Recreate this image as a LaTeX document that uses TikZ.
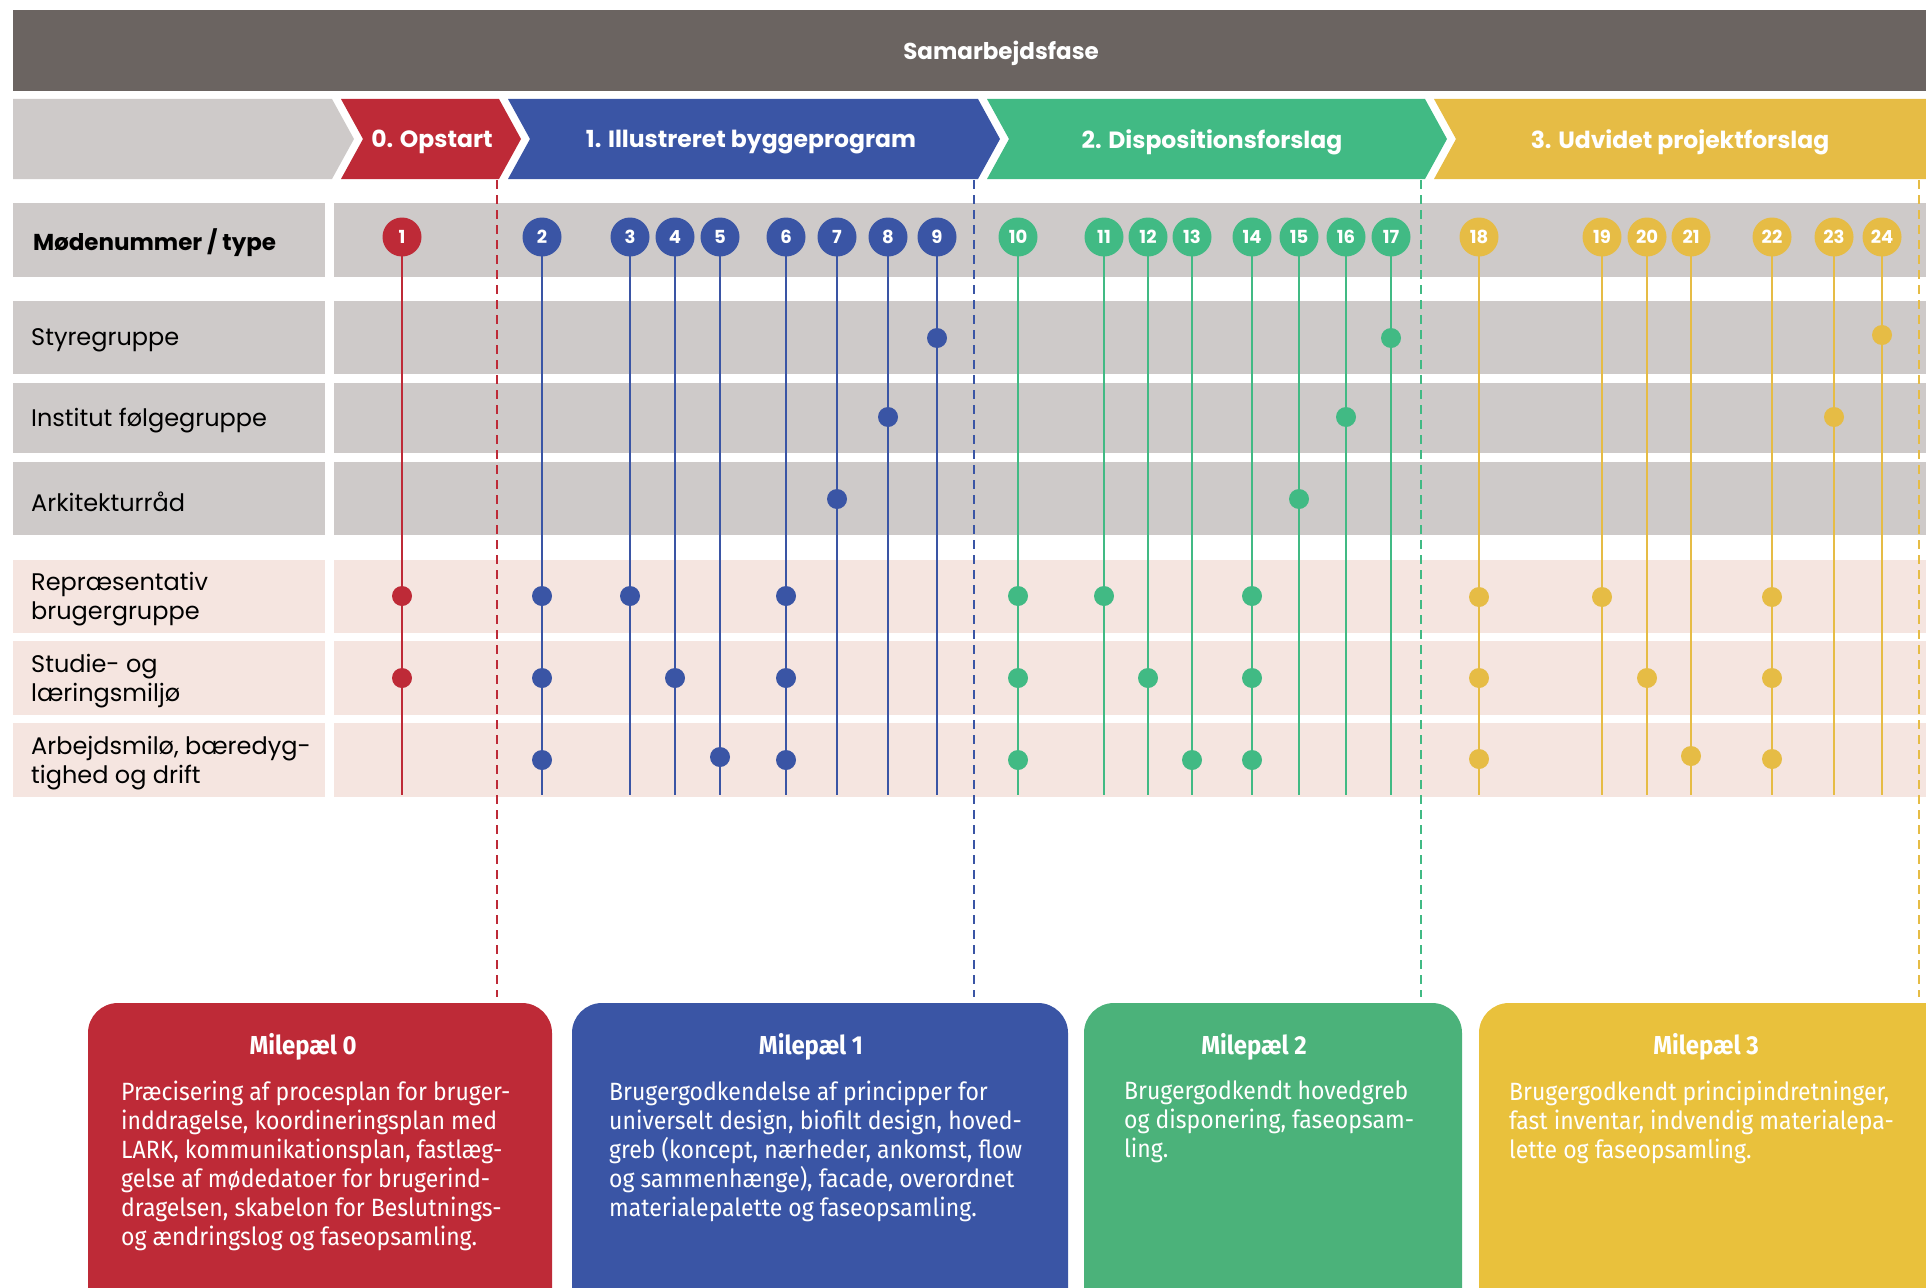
\documentclass[tikz,border=0pt]{standalone}
\usepackage{fontspec}
\setmainfont{Poppins}
\newfontfamily\msfont[FakeStretch=0.92]{Fira Sans}
\usetikzlibrary{calc}
\definecolor{barGray}{HTML}{6B6461}
\definecolor{rowGray}{HTML}{CECAC9}
\definecolor{rowPink}{HTML}{F5E5E0}
\definecolor{fRed}{HTML}{BE2A37}
\definecolor{fBlue}{HTML}{3A55A5}
\definecolor{fGreen}{HTML}{41BA84}
\definecolor{fYellow}{HTML}{E6BC45}
\definecolor{msGreen}{HTML}{4BB27A}
\definecolor{msYellow}{HTML}{E9C13C}
\tikzset{
  meet/.style={circle, fill=#1, text=white, inner sep=0pt, minimum size=39pt,
    font=\fontsize{18}{18}\selectfont\bfseries},
  spot/.style={circle, fill=#1, inner sep=0pt, minimum size=20pt},
  stem/.style={#1, line width=2.4pt},
  bound/.style={#1, line width=2pt, dash pattern=on 9pt off 6pt},
  lbl/.style={anchor=west, align=left, inner sep=0pt, font=\fontsize{24}{29}\selectfont},
  phase/.style={text=white, font=\fontsize{23.5}{23.5}\selectfont\bfseries},
  mstitle/.style={text=white, font=\msfont\fontsize{26}{26}\selectfont\bfseries},
  mstext/.style={text=white, anchor=north west, align=left, inner sep=0pt,
    font=\msfont\fontsize{25}{29}\selectfont}
}
\newcommand\phaseshape[3]{\fill[#1] (#2,99) -- (#3,99) -- ++(22,40) -- ++(-22,40) -- (#2,179) -- ++(22,-40) -- cycle;}

\begin{document}
\begin{tikzpicture}[x=1pt, y=-1pt]
\useasboundingbox (0,0) rectangle (1926,1287);

% samarbejdsfase
\fill[barGray] (13,10) rectangle (1940,91);
\node[phase, font=\fontsize{23}{23}\selectfont\bfseries] (top) at (1001,53) {Samarbejdsfase};

% faser
\fill[rowGray] (13,99) -- (332,99) -- (354,139) -- (332,179) -- (13,179) -- cycle;
\phaseshape{fRed}{341}{499}
\phaseshape{fBlue}{508}{978}
\phaseshape{fGreen}{987}{1425}
\phaseshape{fYellow}{1434}{1940}
\node[phase] (p0) at (432,142) {0. Opstart};
\node[phase] (p1) at (751,142) {1. Illustreret byggeprogram};
\node[phase] (p2) at (1212,142) {2. Dispositionsforslag};
\node[phase] (p3) at (1680,142) {3. Udvidet projektforslag};

% raekker
\fill[rowGray] (13,203) rectangle (325,277);
\fill[rowGray] (334,203) rectangle (1926,277);
\node[lbl, font=\fontsize{23}{29}\selectfont\bfseries] (hMeet) at (33,243) {Mødenummer / type};
\foreach \ya/\yb/\col/\nm/\txt in {
    301/374/rowGray/rS/{Styregruppe},
    383/453/rowGray/rI/{Institut følgegruppe},
    462/535/rowGray/rA/{Arkitekturråd},
    560/633/rowPink/rR/{Repræsentativ\\brugergruppe},
    641/715/rowPink/rL/{Studie- og\\læringsmiljø},
    723/797/rowPink/rW/{Arbejdsmilø, bæredyg-\\tighed og drift}} {
  \fill[\col] (13,\ya) rectangle (325,\yb);
  \fill[\col] (334,\ya) rectangle (1926,\yb);
  \node[lbl] (\nm) at (31,{(\ya+\yb)/2+3}) {\txt};
}

% fasegraenser
\foreach \nm/\x/\col in {b0/497/fRed, b1/974/fBlue, b2/1421/fGreen, b3/1919/fYellow} {
  \coordinate (\nm t) at (\x,180);
  \coordinate (\nm b) at (\x,997);
  \draw[bound=\col] (\nm t) -- (\nm b);
}

% moeder
\foreach \n/\x/\col in {1/402/fRed, 2/542/fBlue, 3/630/fBlue, 4/675/fBlue,
    5/720/fBlue, 6/786/fBlue, 7/837/fBlue, 8/888/fBlue, 9/937/fBlue,
    10/1018/fGreen, 11/1104/fGreen, 12/1148/fGreen, 13/1192/fGreen,
    14/1252/fGreen, 15/1299/fGreen, 16/1346/fGreen, 17/1391/fGreen,
    18/1479/fYellow, 19/1602/fYellow, 20/1647/fYellow, 21/1691/fYellow,
    22/1772/fYellow, 23/1834/fYellow, 24/1882/fYellow} {
  \coordinate (e\n) at (\x,795);
  \draw[stem=\col] (\x,237) -- (e\n);
  \node[meet=\col] (m\n) at (\x,237) {\n};
}
\foreach \n/\y/\col in {1/596/fRed, 1/678/fRed,
    2/596/fBlue, 2/678/fBlue, 2/760/fBlue, 3/596/fBlue, 4/678/fBlue, 5/757/fBlue,
    6/596/fBlue, 6/678/fBlue, 6/760/fBlue, 7/499/fBlue, 8/417/fBlue, 9/338/fBlue,
    10/596/fGreen, 10/678/fGreen, 10/760/fGreen, 11/596/fGreen, 12/678/fGreen,
    13/760/fGreen, 14/596/fGreen, 14/678/fGreen, 14/760/fGreen, 15/499/fGreen,
    16/417/fGreen, 17/338/fGreen,
    18/597/fYellow, 18/678/fYellow, 18/759/fYellow, 19/597/fYellow, 20/678/fYellow,
    21/756/fYellow, 22/597/fYellow, 22/678/fYellow, 22/759/fYellow, 23/417/fYellow,
    24/335/fYellow} {
  \node[spot=\col] (d\n-\y) at (m\n |- 0,\y) {};
}

% milepaele
\fill[fRed, rounded corners=30pt] (88,1003) rectangle (552,1340);
\fill[fBlue, rounded corners=30pt] (572,1003) rectangle (1068,1340);
\fill[msGreen, rounded corners=30pt] (1084,1003) rectangle (1462,1340);
\fill[msYellow, rounded corners=30pt] (1479,1003) rectangle (1980,1340);
\node[mstitle] (t0) at (303,1047) {Milepæl 0};
\node[mstitle] (t1) at (811,1047) {Milepæl 1};
\node[mstitle] (t2) at (1254,1047) {Milepæl 2};
\node[mstitle] (t3) at (1706,1047) {Milepæl 3};
\node[mstext] (x0) at (121,1081) {Præcisering af procesplan for bruger-\\inddragelse, koordineringsplan med\\LARK, kommunikationsplan, fastlæg-\\gelse af mødedatoer for brugerind-\\dragelsen, skabelon for Beslutnings-\\og ændringslog og faseopsamling.};
\node[mstext] (x1) at (609,1081) {Brugergodkendelse af principper for\\universelt design, biofilt design, hoved-\\greb (koncept, nærheder, ankomst, flow\\og sammenhænge), facade, overordnet\\materialepalette og faseopsamling.};
\node[mstext] (x2) at (1124,1081) {Brugergodkendt hovedgreb\\og disponering, faseopsam-\\ling.};
\node[mstext] (x3) at (1509,1081) {Brugergodkendt principindretninger,\\fast inventar, indvendig materialepa-\\lette og faseopsamling.};
\end{tikzpicture}
\end{document}
